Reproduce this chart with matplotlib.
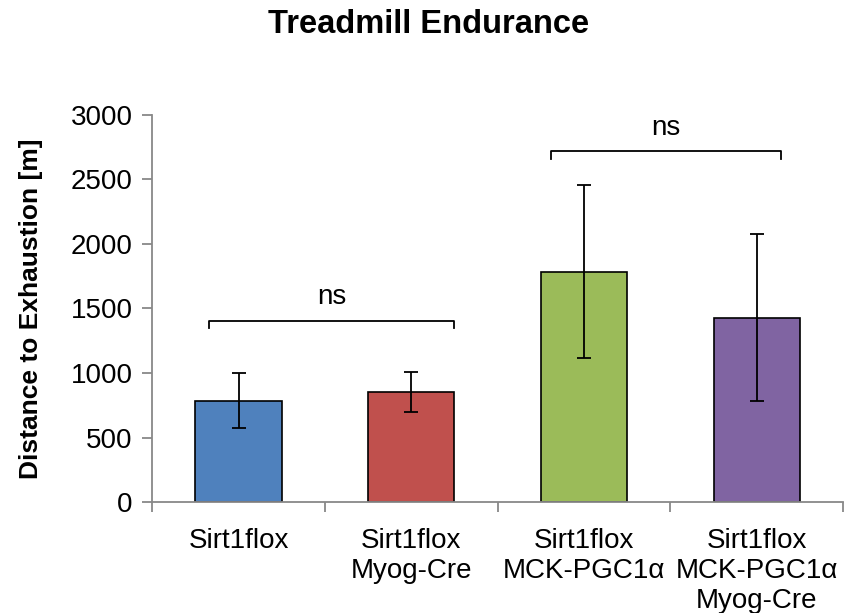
import matplotlib.pyplot as plt
import numpy as np

plt.rcParams['font.family'] = ['Liberation Sans', 'DejaVu Sans']

# data
groups = ['Sirt1flox', 'Sirt1flox\nMyog-Cre', 'Sirt1flox\nMCK-PGC1α',
          'Sirt1flox\nMCK-PGC1α\nMyog-Cre']
distance = [785, 855, 1785, 1430]
err = [215, 155, 670, 650]
colors = ['#4F81BD', '#C0504D', '#9BBB59', '#8064A2']
# significance brackets: (left bar, right bar, height, label)
brackets = [(0, 1, 1405, 'ns'), (2, 3, 2720, 'ns')]
# how far each bracket reaches past its bars (left, right)
reach = [(0.17, 0.245), (0.19, 0.14)]

fig = plt.figure(figsize=(8.46, 6.13), dpi=100)
ax = fig.add_axes([0.18, 0.181, 0.8165, 0.6315])

x = np.arange(len(groups))
ax.bar(x, distance, 0.5, color=colors, edgecolor='black', linewidth=1.2, zorder=2)
ax.errorbar(x, distance, yerr=err, fmt='none', ecolor='black', elinewidth=1.3,
            capsize=5, capthick=1.3, zorder=3)

for (a, b, h, lab), (ra, rb) in zip(brackets, reach):
    xa, xb = x[a] - ra, x[b] + rb
    ax.plot([xa, xa, xb, xb], [h - 60, h, h, h - 60], color='black', lw=1.3,
            clip_on=False)
    ax.text((xa + xb) / 2, h + 80, lab, ha='center', va='bottom', fontsize=20)

ax.set_xlim(-0.5, 3.5)
ax.set_ylim(0, 3000)
ax.set_yticks(np.arange(0, 3001, 500))
ax.set_xticks(x)
ax.set_xticklabels(groups, fontsize=20, linespacing=1.2)
ax.set_xticks(np.arange(-0.5, 3.6, 1), minor=True)
ax.tick_params(axis='x', which='major', length=0, pad=19)
ax.tick_params(axis='x', which='minor', length=7, color='#888888', width=1.3)
ax.tick_params(axis='y', length=7, color='#888888', width=1.3, labelsize=20, pad=7)

for s in ['top', 'right']:
    ax.spines[s].set_visible(False)
for s in ['left', 'bottom']:
    ax.spines[s].set_color('#888888')
    ax.spines[s].set_linewidth(1.3)

ax.set_ylabel('Distance to Exhaustion [m]', fontsize=19, fontweight='bold', labelpad=20)
fig.suptitle('Treadmill Endurance', fontsize=23.5, fontweight='bold', x=0.507, y=0.985)

fig.savefig('out.png', dpi=100)
